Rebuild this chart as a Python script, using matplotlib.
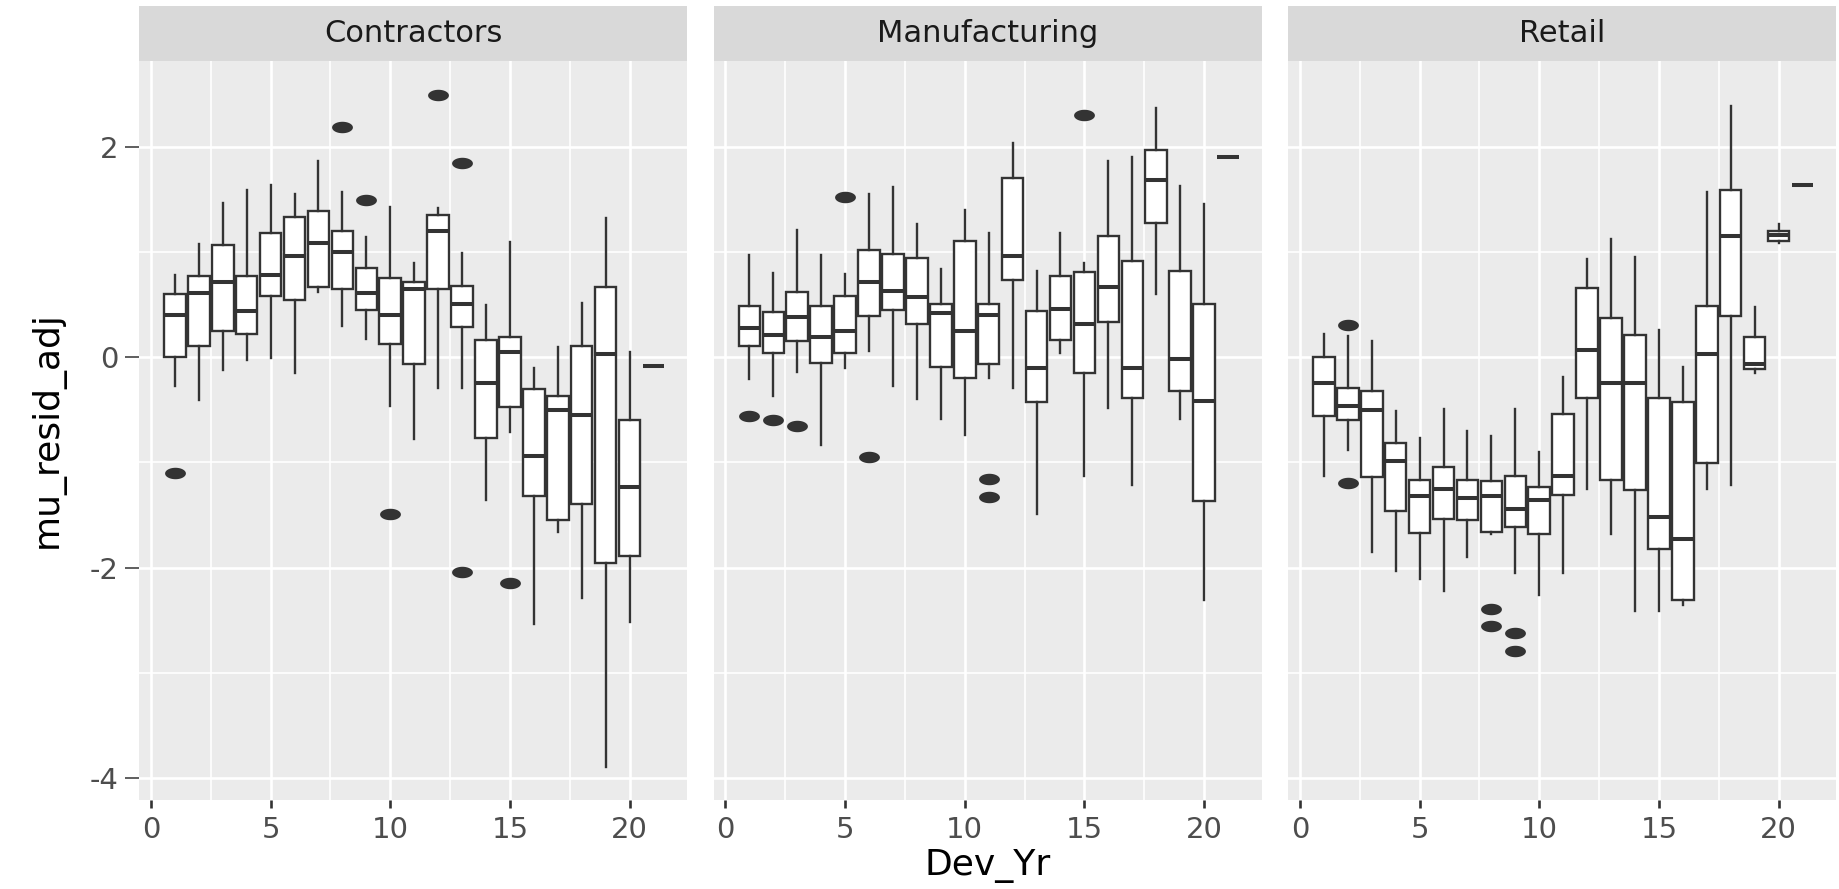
import numpy as np
import matplotlib
matplotlib.use("Agg")
import matplotlib.pyplot as plt
from matplotlib.path import Path
from matplotlib.markers import MarkerStyle

plt.rcParams['font.family'] = ['DejaVu Sans']

# ---- data (box stats per development year) ----
dev_yr = list(range(1, 22))
panels = ["Contractors", "Manufacturing", "Retail"]

con_lo = [-0.27, -0.41, -0.12, -0.03, -0.01, -0.15, 0.62, 0.30, 0.17, -0.46, -0.78,
          -0.29, -0.29, -1.36, -0.71, -2.54, -1.66, -2.29, -3.90, -2.52, -0.08]
con_q1 = [0.00, 0.11, 0.25, 0.22, 0.58, 0.54, 0.67, 0.65, 0.45, 0.13, -0.06,
          0.65, 0.29, -0.77, -0.47, -1.32, -1.55, -1.40, -1.96, -1.89, -0.08]
con_med = [0.40, 0.61, 0.72, 0.44, 0.78, 0.96, 1.09, 1.00, 0.61, 0.40, 0.65,
           1.20, 0.51, -0.24, 0.05, -0.94, -0.50, -0.55, 0.03, -1.23, -0.08]
con_q3 = [0.60, 0.77, 1.07, 0.77, 1.18, 1.33, 1.39, 1.20, 0.85, 0.75, 0.72,
          1.35, 0.68, 0.16, 0.19, -0.30, -0.37, 0.11, 0.67, -0.60, -0.08]
con_hi = [0.78, 1.08, 1.47, 1.59, 1.64, 1.55, 1.87, 1.57, 1.14, 1.43, 0.90,
          1.42, 0.99, 0.50, 1.10, -0.10, 0.10, 0.52, 1.32, 0.05, -0.08]
con_out_x = [1, 8, 9, 10, 12, 13, 13, 15]
con_out_y = [-1.10, 2.19, 1.50, -1.49, 2.49, 1.85, -2.04, -2.15]

man_lo = [-0.21, -0.37, -0.14, -0.83, -0.10, 0.06, -0.27, -0.40, -0.59, -0.74, -0.20,
          -0.29, -1.49, 0.04, -1.13, -0.48, -1.21, 0.60, -0.59, -2.31, 1.90]
man_q1 = [0.11, 0.04, 0.15, -0.05, 0.04, 0.39, 0.45, 0.32, -0.09, -0.20, -0.06,
          0.73, -0.43, 0.16, -0.15, 0.34, -0.39, 1.28, -0.32, -1.37, 1.90]
man_med = [0.28, 0.21, 0.38, 0.19, 0.25, 0.72, 0.63, 0.57, 0.42, 0.25, 0.40,
           0.96, -0.10, 0.46, 0.32, 0.67, -0.10, 1.69, -0.02, -0.42, 1.90]
man_q3 = [0.49, 0.43, 0.62, 0.49, 0.58, 1.02, 0.98, 0.94, 0.51, 1.11, 0.51,
          1.70, 0.44, 0.77, 0.81, 1.15, 0.92, 1.97, 0.82, 0.51, 1.90]
man_hi = [0.97, 0.80, 1.21, 0.97, 0.79, 1.55, 1.62, 1.27, 0.84, 1.40, 1.18,
          2.04, 0.82, 1.18, 0.90, 1.87, 1.90, 2.37, 1.63, 1.46, 1.90]
man_out_x = [1, 2, 3, 5, 6, 11, 11, 15]
man_out_y = [-0.56, -0.60, -0.65, 1.52, -0.95, -1.16, -1.33, 2.30]

ret_lo = [-1.13, -0.88, -1.85, -2.03, -2.11, -2.22, -1.90, -1.68, -2.05, -2.26, -2.05,
          -1.25, -1.68, -2.41, -2.41, -2.36, -1.25, -1.21, -0.15, 1.09, 1.64]
ret_q1 = [-0.56, -0.60, -1.14, -1.46, -1.67, -1.54, -1.55, -1.66, -1.61, -1.68, -1.31,
          -0.39, -1.17, -1.26, -1.82, -2.31, -1.01, 0.39, -0.11, 1.11, 1.64]
ret_med = [-0.24, -0.46, -0.50, -0.99, -1.32, -1.25, -1.34, -1.32, -1.44, -1.36, -1.13,
           0.07, -0.24, -0.24, -1.52, -1.73, 0.03, 1.15, -0.06, 1.16, 1.64]
ret_q3 = [0.00, -0.29, -0.32, -0.82, -1.17, -1.04, -1.17, -1.18, -1.13, -1.23, -0.54,
          0.66, 0.37, 0.21, -0.39, -0.43, 0.49, 1.59, 0.19, 1.20, 1.64]
ret_hi = [0.22, 0.20, 0.15, -0.51, -0.77, -0.49, -0.70, -0.75, -0.49, -0.90, -0.19,
          0.93, 1.12, 0.95, 0.26, -0.09, 1.57, 2.39, 0.48, 1.27, 1.64]
ret_out_x = [2, 2, 8, 8, 9, 9]
ret_out_y = [0.31, -1.20, -2.39, -2.56, -2.62, -2.79]

x_ticks = [0, 5, 10, 15, 20]
y_ticks = [-4, -2, 0, 2]


def make_stats(lo, q1, med, q3, hi, out_x, out_y):
    stats = []
    for i, yr in enumerate(dev_yr):
        fl = [v for xx, v in zip(out_x, out_y) if xx == yr]
        stats.append(dict(whislo=lo[i], q1=q1[i], med=med[i], q3=q3[i],
                          whishi=hi[i], fliers=fl))
    return stats


all_stats = [
    make_stats(con_lo, con_q1, con_med, con_q3, con_hi, con_out_x, con_out_y),
    make_stats(man_lo, man_q1, man_med, man_q3, man_hi, man_out_x, man_out_y),
    make_stats(ret_lo, ret_q1, ret_med, ret_q3, ret_hi, ret_out_x, ret_out_y),
]

# ---- layout (pixel based, figure is 1839 x 889) ----
W, H = 1839, 889
fig = plt.figure(figsize=(W / 100, H / 100), dpi=100)
fig.patch.set_facecolor('white')

lefts = [139, 713.5, 1288]
pw = 548
p_top, p_bot = 60.7, 800
s_top = 6

# squashed ellipse like the stretched points of the reference
t = np.linspace(0, 2 * np.pi, 60)
ell = MarkerStyle(Path(np.column_stack([np.cos(t), 0.55 * np.sin(t)])))

dark = '#333333'
for k, name in enumerate(panels):
    ax = fig.add_axes([lefts[k] / W, 1 - p_bot / H, pw / W, (p_bot - p_top) / H])
    ax.set_facecolor('#EBEBEB')
    ax.bxp(all_stats[k], positions=dev_yr, widths=0.9, patch_artist=True,
           showcaps=False, showfliers=True, manage_ticks=False,
           boxprops=dict(facecolor='white', edgecolor=dark, linewidth=1.7),
           whiskerprops=dict(color=dark, linewidth=1.7),
           medianprops=dict(color=dark, linewidth=2.9, solid_capstyle='butt'),
           flierprops=dict(marker=ell, markerfacecolor=dark, markeredgecolor='none',
                           markersize=15, linestyle='none'))
    ax.set_xlim(-0.5, 22.4)
    ax.set_ylim(-4.21, 2.82)
    ax.set_xticks(x_ticks)
    ax.set_xticks([2.5, 7.5, 12.5, 17.5], minor=True)
    ax.set_yticks(y_ticks)
    ax.set_yticks([-3, -1, 1], minor=True)
    ax.set_axisbelow(True)
    ax.grid(which='major', color='white', linewidth=1.9)
    ax.grid(which='minor', color='white', linewidth=1.2)
    for sp in ax.spines.values():
        sp.set_visible(False)
    ax.tick_params(axis='x', which='major', length=5.8, width=1.9, color=dark,
                   labelsize=21, labelcolor='#4D4D4D', pad=6)
    ax.tick_params(axis='y', which='major', length=10, width=1.1, color=dark,
                   labelsize=21, labelcolor='#4D4D4D', pad=5)
    ax.tick_params(which='minor', length=0)
    if k > 0:
        ax.tick_params(axis='y', labelleft=False, length=0)
    else:
        ax.set_yticklabels([str(v) for v in y_ticks])

    sax = fig.add_axes([lefts[k] / W, 1 - p_top / H, pw / W, (p_top - s_top) / H])
    sax.set_facecolor('#D9D9D9')
    sax.set_xticks([])
    sax.set_yticks([])
    for sp in sax.spines.values():
        sp.set_visible(False)
    sax.text(0.5, 0.5, name, ha='center', va='center', fontsize=22,
             color='#1A1A1A', transform=sax.transAxes)

fig.text(47 / W, 1 - 430 / H, 'mu_resid_adj', rotation=90, ha='center',
         va='center', fontsize=26, color='black')
fig.text(987.5 / W, 1 - 866 / H, 'Dev_Yr', ha='center', va='center',
         fontsize=26, color='black')

fig.savefig('out.png', dpi=100)
